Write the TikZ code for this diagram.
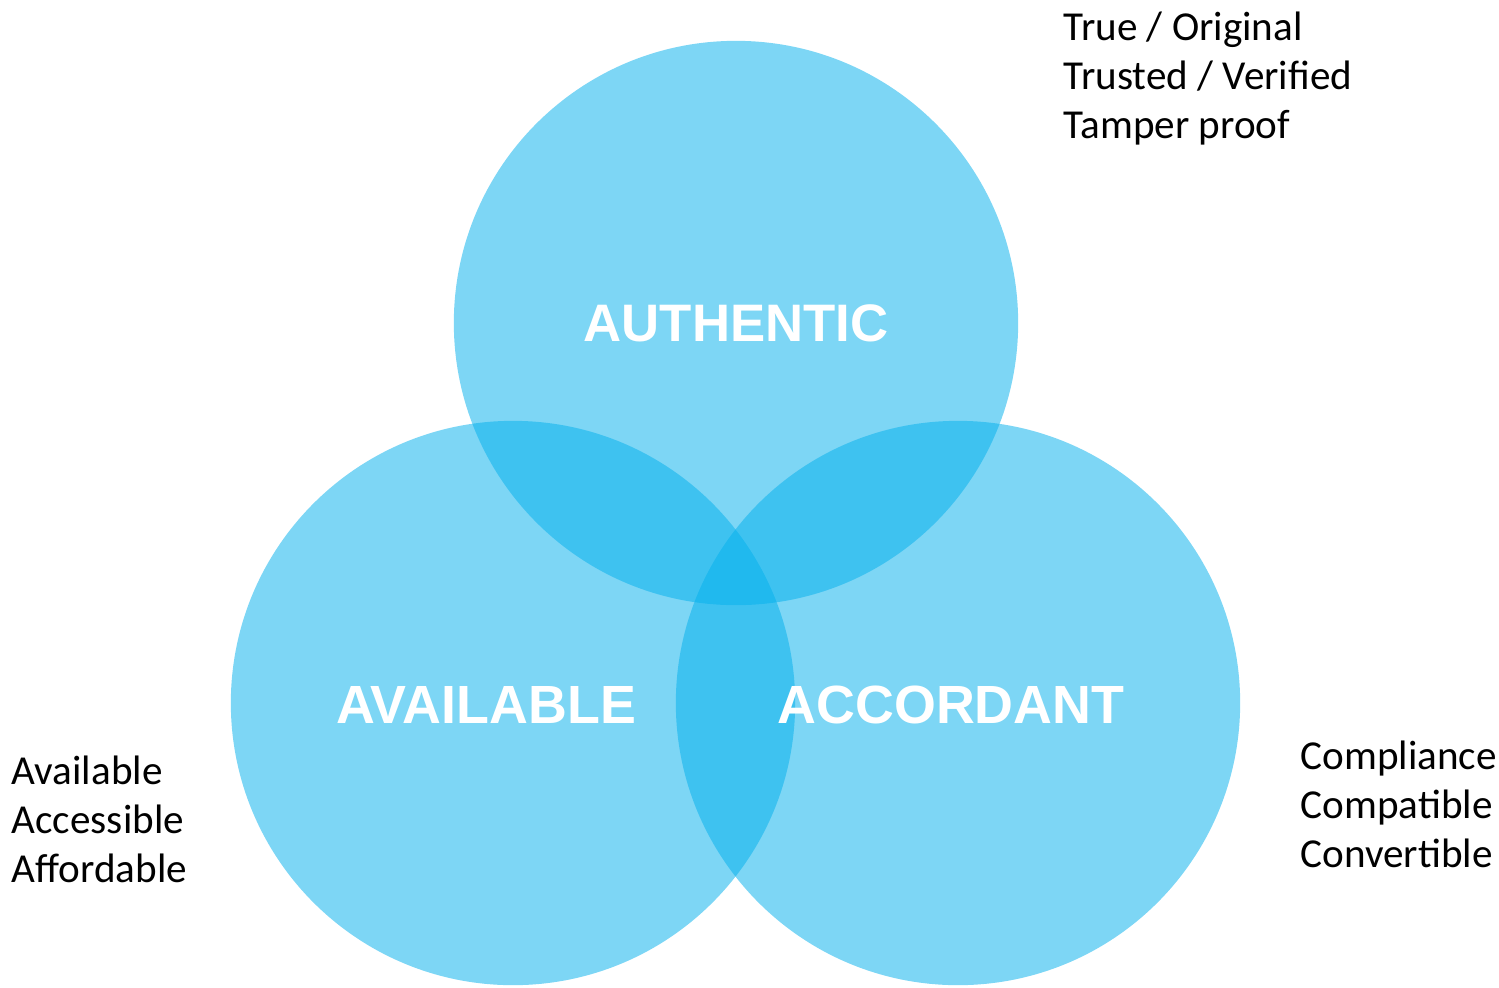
\documentclass[tikz,border=0pt]{standalone}
\usepackage{fontspec}
\setmainfont{Carlito}
\newfontfamily\labelfont{Liberation Sans}
\usetikzlibrary{positioning}
\definecolor{setblue}{RGB}{5,176,236}

\begin{document}
\begin{tikzpicture}[x=0.01cm, y=-0.01cm,
    set/.style={circle, fill=setblue, fill opacity=0.52, text opacity=1,
      minimum size=5.64cm, inner sep=0pt, text=white,
      font=\labelfont\bfseries\fontsize{15}{17}\selectfont},
    setname/.style={text=white, inner sep=0pt,
      font=\labelfont\bfseries\fontsize{15.3}{17}\selectfont},
    props/.style={align=left, inner sep=0pt, anchor=north west,
      font=\fontsize{11.7}{13.94}\selectfont}]
    \useasboundingbox (0,0) rectangle (1499,987);
    \node[set] (authentic) at (736,323) {AUTHENTIC};%
    \node[set] (available) at (513,703) {};%
    \node[set] (accordant) at (958,703) {};%
    \node[setname] (availabletext) at (486,705) {AVAILABLE};%
    \node[setname] (accordanttext) at (951,705) {ACCORDANT};%
    \node[props] (authprops) at (1063,11) {True / Original\\Trusted / Verified\\Tamper proof};%
    \node[props] (availprops) at (11,755) {Available\\Accessible\\Affordable};%
    \node[props] (accprops) at (1300,740) {Compliance\\Compatible\\Convertible};%
  \end{tikzpicture}
\end{document}
